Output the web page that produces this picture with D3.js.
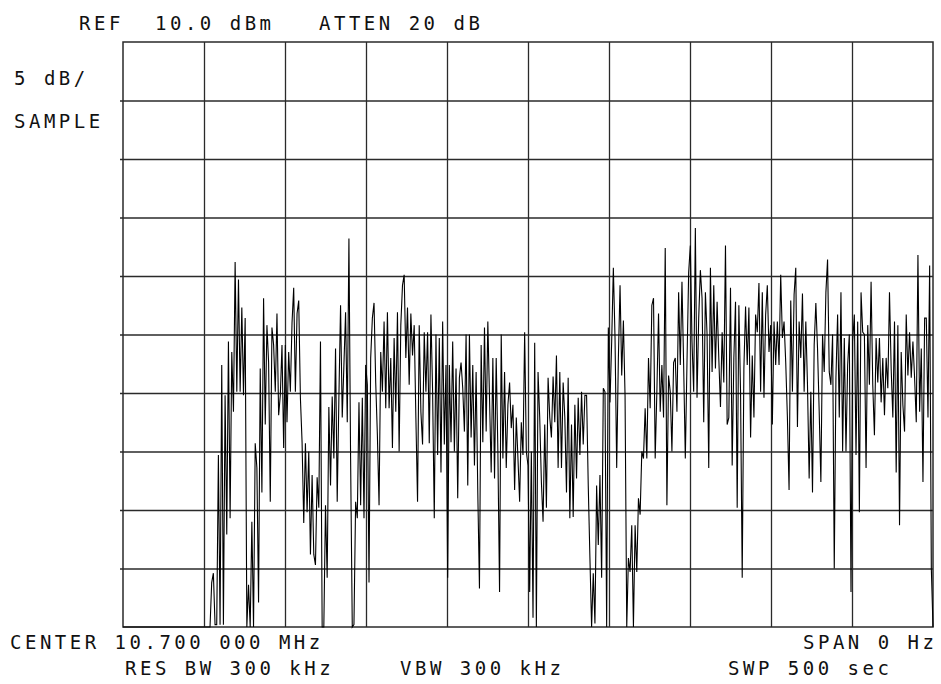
<!DOCTYPE html>
<html><head><meta charset="utf-8">
<script src="https://cdn.jsdelivr.net/npm/d3@7"></script>
<style>
body{margin:0;background:#fff}
svg{display:block}
text{font-family:"DejaVu Sans Mono","Liberation Mono",monospace;font-size:19px;fill:#111;letter-spacing:3.5px}
</style>
</head><body><svg id="chart" width="941" height="684"></svg>
<script>
// ---- data ----
const sweepSec = [0, 500];
const refLevelDbm = 10;
const dbPerDiv = 5;
const divisions = 10;
const xGridSec = [50, 100, 150, 200, 250, 300, 350, 400, 450];
const yGridDbm = [-35, -30, -25, -20, -15, -10, -5, 0, 5];
const headerLabels = ["REF", "10.0 dBm", "ATTEN 20 dB"];
const sideLabels = ["5 dB/", "SAMPLE"];
const footerLabels = ["CENTER 10.700 000 MHz", "SPAN 0 Hz", "RES BW 300 kHz", "VBW 300 kHz", "SWP 500 sec"];
// sample-detector trace, dBm (values at -40 sit on the bottom graticule)
const traceDbm = [
-40,-40,-40,-40,-40,-40,-40,-40,-40,-40,-40,-40,-40,-40,-40,-40,-40,-40,-40,-40,
-40,-40,-40,-40,-40,-40,-40,-40,-40,-40,-40,-40,-40,-40,-40,-40,-40,-40,-40,-40,
-40,-40,-40,-40,-40,-40,-40,-40,-40,-40,-40,-40,-40,
-36.2,-35.4,-39.8,-39.8,-25.3,-39.8,-17.6,-39.8,-20.2,-32.1,-15.6,-30.7,-16.5,-21.6,-8.8,-19.9,-10.3,-19.9,-12.7,-20.2,
-13.6,-40,-36.4,-40,-31,-40,-24.3,-26.4,-37.9,-17.9,-28.5,-11.9,-22.7,-14.2,-17.4,-29.3,-14.4,-15.9,-19.9,-13.2,
-21.9,-20.2,-15.9,-24.7,-15.9,-22.5,-16.5,-19.9,-14,-11,-19.9,-13.2,-12.1,-20.4,-24.2,-31.1,-24.3,
-30.2,-25,-33.8,-27,-33.8,-34.7,-27.2,-29.8,-15.6,-40,-40,-29.6,-35.8,-21.2,-27.9,-20.3,-25.6,-16.2,-29.3,-20.4,
-12.5,-22.1,-17.6,-13.1,-22.5,-6.8,-25.6,-40,-39.8,-29.3,-30.7,-20.8,-29.6,-20.4,-30.7,-17.6,-19.3,-36.2,-17,-13.6,
-12.3,-19.1,-23.6,-29.6,-16.5,-19.9,-13.9,-21.3,-13.1,-21.3,-17,-24.7,-15.3,-21.6,-13.1,-25,-14.2,-10.8,-9.9,-17,
-12.7,-19.3,
-13.2,-16.8,-14.2,-22.1,-29.3,-14.2,-21.6,-24.4,-14.8,-19.9,-14.8,-24.3,-13.3,-19.9,-30.7,-15,-25.3,-15.3,-26.8,-13.9,
-24.4,-17.6,-35.8,-17.6,-24.2,-15.6,-25,-17.9,-29,-18.7,-17.4,-19.6,-23.3,-15,-27.9,-15,-23.8,-17.6,-26.2,-18.2,
-28.5,-36.7,-15.9,-24.2,-14.4,-23.3,-13.9,-20.4,-26.8,-17,-27.3,-17,-25,-37,-15,-25.6,-18.2,-26.4,
-21,-19.1,-23,-21,-28.3,-22.1,-25.6,-29.3,-22.5,-25.3,-14.8,-25,-26.2,-37,-25,-39.2,-15.7,-40,-18.2,-22.1,
-27.6,-31,-22.7,-29.8,-18.7,-22.1,-23.8,-18.6,-22.5,-16.8,-26.4,-18.2,-26.4,-19.1,-22.1,-28.5,-18.7,-30.7,-22.7,-30.6,
-21,-27.3,-20.4,-25.3,-19.9,-24.4,-20.2,-20.2,-27.9,-34.1,-40,-35.4,-39.7,-27.9,-33,-27,-35.8,-19.6,-19.9,-40,
-14.4,-20.8,-15.6,-9.3,
-15.3,-26.4,-17,-10.8,-18.5,-13.8,-20.3,-40,-34.1,-35.3,-31.3,-40,-31.3,-35.3,-29,-30.4,-25,-25.6,-21.3,-25.6,
-17,-21.3,-12.5,-11.9,-25.6,-19.9,-13.2,-21.6,-17.6,-22.1,-7.6,-29.6,-18.5,-19.9,-25,-17.4,-17,-21.6,-11.4,-17.6,
-10.5,-17.6,-25.6,-17.4,-9.7,-7.4,-15.6,-19.9,-5.9,-20.4,-13.6,-9.5,-11.9,-22.5,-11.4,-15,-26.4,-9.3,-18.2,-10.8,
-17.9,-12.2,-17,-21.2,-14.8,
-19.1,-7.4,-22.7,-22.1,-11,-26.2,-17,-12.2,-29.8,-12.5,-19.9,-35.8,-17.9,-12.6,-17.6,-12.7,-23.8,-16.8,-22.1,-13.3,
-14.8,-10.6,-19.9,-11.4,-20.4,-13.3,-10.8,-16.5,-14.2,-22.7,-13.9,-17.6,-13.9,-17.6,-9.9,-15.3,-13.9,-17.4,-22.1,-28.3,
-12.1,-19.9,-11.6,-9.3,-22.9,-13.9,-17,-11.5,-19.9,-13.9,-19.3,-27.3,-19.9,-28.5,-15.9,-12.3,-16.2,-21.6,-27.6,-15,
-18.2,-11.4,
-8.6,-18.2,-19.3,-15,-35,-18.7,-13.3,-22.1,-11.4,-25,-15.3,-25,-17.6,-15,-37,-15.6,-13.3,-25.3,-13.9,-30.2,
-11.4,-14.8,-15,-26.4,-14.2,-19.3,-10.5,-19.3,-23.6,-15.3,-19.1,-15.3,-20.8,-17,-21.9,-17,-19.6,-11.4,-17.9,-22.1,
-13.9,-26.8,-14.2,-31.3,-16.5,-21,-23.3,-13.3,-18.5,-14.8,-18.7,-15.6,-18.7,-22.5,-8.2,-21.6,-16.2,-27.6,-13.6,-13.6,
-22.1,-9.1,-35,-40
];

// ---- layout ----
const L = 123, R = 933, T = 42, B = 627;
const svg = d3.select("#chart");
const x = d3.scaleLinear().domain(sweepSec).range([L, R]);
const y = d3.scaleLinear().domain([refLevelDbm - dbPerDiv * divisions, refLevelDbm]).range([B, T]);
const gridColor = "#2a2a2a";

// vertical graticule
svg.append("g")
  .attr("transform", `translate(0,${B})`)
  .call(d3.axisBottom(x).tickValues(xGridSec).tickSize(-(B - T)).tickFormat(""))
  .call(g => g.select(".domain").remove())
  .call(g => g.selectAll(".tick line").attr("stroke", gridColor).attr("stroke-width", 1.3));

// horizontal graticule
svg.append("g")
  .attr("transform", `translate(${L - 3},0)`)
  .call(d3.axisLeft(y).tickValues(yGridDbm).tickSize(-(R - L + 3)).tickFormat(""))
  .call(g => g.select(".domain").remove())
  .call(g => g.selectAll(".tick line").attr("stroke", gridColor).attr("stroke-width", 1.3));

// border
svg.append("rect").attr("x", L).attr("y", T).attr("width", R - L).attr("height", B - T)
  .attr("fill", "none").attr("stroke", gridColor).attr("stroke-width", 1.5);

// trace
const n = traceDbm.length;
const tOf = i => sweepSec[0] + (sweepSec[1] - sweepSec[0]) * i / (n - 1);
svg.append("path")
  .datum(traceDbm)
  .attr("fill", "none")
  .attr("stroke", "#000")
  .attr("stroke-width", 1.1)
  .attr("stroke-linejoin", "miter")
  .attr("d", d3.line().x((d, i) => x(tOf(i))).y(d => y(d)));

// annotations
const put = (t, px, py) => svg.append("text").attr("x", px).attr("y", py).text(t);
put(headerLabels[0], 79, 30);
put(headerLabels[1], 155, 30);
put(headerLabels[2], 319, 30);
put(sideLabels[0], 14, 85);
put(sideLabels[1], 14, 128);
put(footerLabels[0], 10, 649);
put(footerLabels[1], 803, 649);
put(footerLabels[2], 125, 675);
put(footerLabels[3], 400, 675);
put(footerLabels[4], 728, 675);
</script>
</body></html>
